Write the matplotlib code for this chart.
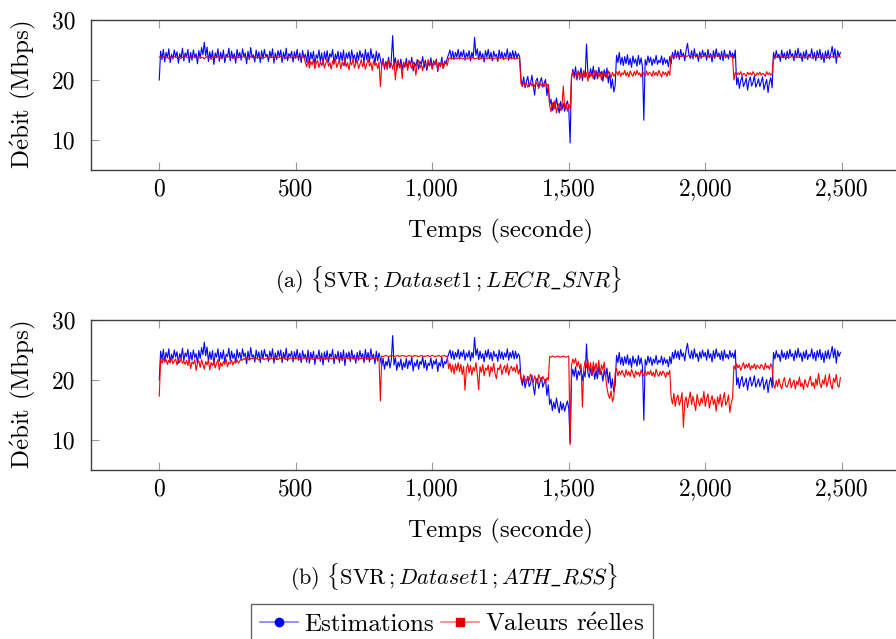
import matplotlib
matplotlib.use("Agg")
import matplotlib.pyplot as plt
from matplotlib.lines import Line2D
from matplotlib.ticker import FuncFormatter
import numpy as np

plt.rcParams['font.family'] = ['cmr10', 'DejaVu Serif']
plt.rcParams['mathtext.fontset'] = 'cm'
plt.rcParams['axes.unicode_minus'] = False

# time axis, one reading every 5 s
temps = np.arange(0, 2500, 5)

# estimations (same curve in both panels), 20 readings per 100 s
estimations = [
    20.0, 24.8, 23.4, 25.1, 23.0, 24.6, 23.7, 25.2, 22.9, 24.3, 23.5, 25.0, 23.8, 24.7, 22.8, 24.4, 23.6, 25.3, 23.2, 24.5,
    23.9, 25.1, 22.9, 24.6, 23.3, 25.0, 23.7, 24.4, 22.7, 24.9, 23.6, 25.4, 24.2, 26.3, 24.0, 25.5, 23.1, 24.7, 23.4, 24.9,
    22.6, 24.5, 23.8, 25.2, 23.1, 24.6, 23.5, 25.0, 22.9, 24.3, 23.9, 25.3, 23.2, 24.8, 23.6, 24.4, 22.8, 25.1, 23.7, 24.6,
    23.3, 25.2, 23.9, 24.5, 22.7, 24.8, 23.4, 25.4, 23.8, 24.2, 23.0, 25.0, 23.6, 24.7, 22.9, 24.9, 23.5, 25.1, 23.9, 24.3,
    23.1, 24.8, 23.7, 25.2, 22.8, 24.5, 23.4, 24.9, 23.8, 25.0, 22.9, 24.6, 23.5, 25.3, 23.2, 24.4, 23.9, 24.8, 23.0, 24.7,
    23.6, 25.1, 23.3, 24.5, 22.9, 24.9, 23.7, 24.3, 23.0, 25.0, 22.8, 24.6, 23.5, 24.8, 22.6, 24.2, 23.6, 25.0, 23.1, 24.5,
    22.5, 24.7, 23.4, 24.9, 23.0, 24.4, 23.8, 25.1, 22.7, 24.3, 23.5, 24.8, 22.9, 24.6, 23.2, 25.0, 22.4, 24.5, 23.6, 24.7,
    23.1, 25.0, 23.5, 24.2, 22.8, 24.6, 23.3, 24.9, 23.7, 24.4, 22.9, 25.1, 23.4, 24.6, 23.0, 25.2, 23.6, 24.3, 22.7, 24.8,
    23.2, 24.5, 23.5, 22.3, 23.6, 21.8, 23.1, 22.4, 23.8, 22.0, 23.3, 27.4, 22.5, 23.7, 21.6, 23.0, 22.2, 23.5, 21.7, 22.9,
    22.1, 23.6, 21.9, 23.2, 22.5, 23.8, 21.5, 22.9, 22.3, 23.4, 21.8, 23.1, 22.6, 23.9, 22.0, 23.3, 21.6, 22.8, 22.4, 23.7,
    21.9, 23.2, 22.6, 23.5, 21.4, 22.9, 22.3, 23.8, 22.0, 23.1, 22.7, 23.6, 24.3, 25.0, 23.6, 24.8, 23.4, 24.6, 23.8, 25.1,
    23.5, 24.7, 23.9, 25.0, 23.3, 24.5, 23.8, 24.9, 23.2, 24.6, 23.7, 27.1, 24.1, 25.2, 23.4, 24.8, 23.6, 24.4, 23.0, 24.9,
    23.8, 25.1, 23.5, 24.6, 23.2, 24.8, 23.9, 24.3, 23.1, 25.0, 23.6, 24.7, 23.4, 24.5, 23.8, 25.2, 23.3, 24.6, 23.7, 24.9,
    23.5, 24.8, 23.6, 24.4, 23.9, 20.2, 19.1, 20.5, 18.7, 19.8, 20.6, 18.9, 19.4, 20.8, 19.0, 17.5, 19.9, 20.3, 18.6, 19.7,
    20.4, 18.8, 19.5, 20.1, 17.4, 19.2, 15.9, 16.8, 14.9, 16.3, 15.2, 17.0, 15.6, 14.5, 16.4, 15.0, 16.1, 14.8, 15.7, 16.5,
    15.3, 9.5, 20.3, 21.8, 20.6, 22.2, 20.0, 21.5, 20.8, 22.0, 19.9, 21.4, 20.5, 26.0, 21.2, 20.4, 21.9, 20.7, 22.3, 20.1,
    21.6, 20.2, 22.1, 20.9, 21.4, 19.8, 21.7, 20.5, 22.0, 19.5, 21.3, 18.6, 20.2, 18.0, 19.1, 24.1, 22.9, 24.6, 22.6, 23.8,
    22.4, 23.9, 22.7, 24.2, 22.5, 23.6, 22.1, 24.0, 22.8, 23.5, 22.3, 24.1, 22.6, 23.7, 22.2, 13.3, 23.4, 22.5, 24.0, 22.9,
    23.8, 22.4, 23.5, 22.8, 24.1, 22.6, 23.3, 22.9, 24.0, 22.5, 23.7, 22.8, 23.4, 22.2, 23.9, 22.7, 24.6, 23.5, 25.0, 23.7,
    24.8, 23.4, 25.1, 23.9, 24.5, 23.2, 25.0, 26.1, 24.3, 23.6, 24.9, 23.5, 25.2, 23.8, 24.4, 23.1, 24.7, 23.6, 25.0, 23.9,
    24.6, 23.3, 25.1, 23.7, 24.4, 23.0, 24.9, 23.6, 25.2, 23.9, 24.5, 23.4, 24.8, 23.2, 25.0, 23.7, 24.3, 23.5, 24.9, 23.8,
    24.5, 23.6, 25.0, 19.2, 20.4, 18.6, 19.9, 20.6, 18.9, 19.5, 20.3, 18.3, 19.8, 20.5, 19.0, 19.6, 20.7, 18.8, 19.4, 20.2,
    18.9, 19.7, 20.5, 18.4, 19.3, 20.1, 17.9, 19.6, 20.4, 18.7, 24.6, 23.5, 24.9, 23.8, 24.3, 23.1, 25.0, 23.7, 24.5, 23.4,
    24.8, 23.6, 25.1, 23.9, 24.4, 23.2, 24.9, 23.7, 25.3, 23.8, 24.5, 23.1, 24.7, 23.6, 25.0, 23.4, 24.3, 23.9, 25.2, 23.5,
    24.6, 23.2, 24.9, 23.8, 25.1, 23.4, 24.5, 22.9, 24.8, 23.6, 25.0, 23.5, 24.4, 25.6, 23.7, 25.2, 22.8, 24.9, 23.9, 24.6,
]

# valeurs reelles, panel (a) LECR_SNR
reelles_a = [
    23.8, 23.9, 23.7, 23.8, 23.9, 23.7, 23.8, 23.6, 23.9, 23.8, 23.7, 23.9, 23.8, 23.7, 23.8, 23.9, 23.6, 23.8, 23.7, 23.9,
    23.8, 23.7, 23.9, 23.8, 23.6, 23.8, 23.9, 23.7, 23.8, 23.8, 23.9, 23.7, 23.8, 23.5, 23.8, 23.9, 23.7, 23.8, 23.6, 23.8,
    23.9, 23.8, 23.7, 23.9, 23.8, 23.6, 23.8, 23.9, 23.7, 23.8, 23.8, 23.9, 23.7, 23.8, 23.6, 23.9, 23.8, 23.7, 23.9, 23.8,
    23.7, 23.8, 23.9, 23.7, 23.8, 23.8, 23.6, 23.9, 23.8, 23.7, 23.9, 23.8, 23.7, 23.8, 23.9, 23.6, 23.8, 23.7, 23.9, 23.8,
    23.8, 23.7, 23.9, 23.8, 23.6, 23.8, 23.9, 23.7, 23.8, 23.9, 23.7, 23.8, 23.8, 23.6, 23.9, 23.8, 23.7, 23.8, 23.9, 23.7,
    23.8, 23.9, 23.7, 23.8, 23.6, 23.9, 23.8, 22.9, 22.2, 23.4, 22.0, 23.1, 22.5, 23.5, 21.9, 22.8, 23.3, 22.1, 23.0, 22.4,
    23.4, 22.0, 22.8, 23.5, 22.3, 22.9, 21.8, 23.2, 22.6, 23.6, 22.1, 22.7, 23.3, 21.9, 23.0, 22.4, 23.5, 22.2, 22.9, 21.7,
    23.1, 22.5, 23.6, 22.0, 22.8, 23.3, 21.9, 22.6, 23.4, 22.2, 23.0, 21.8, 22.7, 23.5, 22.3, 22.9, 21.6, 23.2, 22.4, 22.8,
    21.9, 23.0, 18.9, 22.6, 23.2, 22.1, 22.9, 21.7, 23.3, 22.4, 22.8, 21.8, 23.1, 20.0, 22.5, 23.4, 22.0, 22.7, 20.2, 23.0,
    22.3, 22.9, 21.6, 23.2, 22.5, 21.9, 23.0, 22.4, 20.8, 22.8, 23.3, 22.0, 22.6, 21.5, 23.1, 22.7, 22.1, 23.4, 22.3, 22.9,
    21.8, 23.0, 22.5, 23.3, 21.7, 22.8, 22.2, 23.1, 21.9, 22.6, 23.2, 22.4, 23.6, 23.7, 23.5, 23.6, 23.8, 23.6, 23.5, 23.7,
    23.6, 23.7, 23.5, 23.6, 23.8, 23.6, 23.5, 23.7, 23.6, 23.6, 23.8, 23.5, 23.6, 23.7, 23.6, 23.5, 23.7, 23.6, 23.8, 23.6,
    23.5, 23.7, 23.6, 23.6, 23.8, 23.5, 23.7, 23.6, 23.5, 23.7, 23.6, 23.8, 23.6, 23.5, 23.7, 23.6, 23.6, 23.8, 23.5, 23.7,
    23.6, 23.5, 23.7, 23.6, 23.6, 19.4, 18.9, 19.6, 19.1, 19.5, 18.8, 19.3, 19.7, 19.0, 19.4, 18.9, 19.6, 19.2, 18.7, 19.5,
    19.0, 19.4, 18.9, 19.6, 19.1, 19.3, 15.8, 14.7, 16.2, 15.1, 16.6, 14.5, 15.6, 16.1, 14.9, 15.7, 19.0, 15.3, 16.0, 14.8,
    15.9, 15.2, 20.5, 21.4, 20.3, 21.1, 20.6, 21.5, 20.1, 21.0, 20.7, 21.6, 20.4, 21.2, 19.8, 21.3, 20.6, 21.0, 20.2, 21.5,
    20.8, 21.3, 20.5, 21.1, 20.0, 21.4, 20.7, 21.2, 20.3, 21.5, 20.9, 20.4, 21.3, 20.6, 21.0, 21.4, 20.8, 21.5, 20.6, 21.2,
    20.9, 21.6, 20.7, 21.3, 20.5, 21.5, 21.0, 20.6, 21.4, 20.8, 21.6, 20.9, 21.2, 20.5, 21.4, 21.0, 20.7, 21.5, 20.8, 21.3,
    21.1, 20.6, 21.5, 20.8, 21.3, 20.7, 21.6, 21.0, 20.5, 21.4, 20.9, 21.3, 20.6, 21.5, 20.8, 24.0, 24.1, 23.9, 24.0, 24.0,
    24.0, 24.1, 23.9, 24.0, 24.0, 24.1, 23.9, 24.0, 24.1, 24.0, 23.9, 24.0, 24.1, 24.0, 23.9, 24.0, 24.0, 24.1, 23.9, 24.0,
    24.1, 24.0, 23.9, 24.0, 24.1, 24.0, 23.9, 24.0, 24.0, 24.1, 23.9, 24.0, 24.1, 24.0, 24.0, 23.9, 24.0, 24.1, 24.0, 23.9,
    24.0, 20.0, 21.3, 20.8, 21.2, 20.9, 21.4, 20.7, 21.1, 21.0, 20.6, 21.3, 20.9, 21.2, 20.8, 21.4, 21.0, 20.7, 21.2, 20.9,
    21.3, 20.8, 21.1, 21.0, 20.6, 21.4, 20.9, 21.2, 20.8, 21.1, 23.8, 23.8, 23.9, 23.7, 23.8, 23.8, 23.9, 23.7, 23.8, 23.9,
    23.8, 23.7, 23.8, 23.9, 23.8, 23.7, 23.8, 23.9, 23.8, 23.8, 23.7, 23.9, 23.8, 23.8, 23.7, 23.8, 23.9, 23.8, 23.7, 23.8,
    23.9, 23.8, 23.7, 23.8, 23.8, 23.9, 23.7, 23.8, 23.8, 23.9, 23.8, 23.7, 23.8, 23.9, 23.8, 23.8, 23.7, 23.8, 23.9, 23.8,
]

# valeurs reelles, panel (b) ATH_RSS
reelles_b = [
    17.3, 23.5, 22.8, 23.6, 23.0, 23.4, 22.6, 23.3, 22.9, 23.7, 22.7, 23.2, 23.5, 22.5, 23.4, 22.9, 23.6, 22.8, 23.1, 22.6,
    23.3, 22.4, 23.5, 21.9, 23.0, 22.7, 23.4, 21.6, 22.8, 23.2, 22.1, 23.4, 22.6, 21.8, 23.1, 22.5, 23.3, 21.7, 22.9, 22.4,
    23.2, 22.0, 22.8, 23.4, 21.7, 22.9, 22.3, 23.1, 22.6, 23.5, 22.2, 23.0, 22.7, 23.3, 22.5, 23.1, 22.9, 23.4, 22.8, 23.2,
    23.5, 23.3, 23.6, 23.4, 23.7, 23.5, 23.3, 23.6, 23.5, 23.7, 23.4, 23.6, 23.5, 23.3, 23.6, 23.7, 23.5, 23.4, 23.6, 23.5,
    23.6, 23.4, 23.7, 23.5, 23.6, 23.5, 23.7, 23.4, 23.6, 23.6, 23.5, 23.7, 23.6, 23.4, 23.6, 23.5, 23.7, 23.6, 23.5, 23.6,
    23.5, 23.7, 23.6, 23.4, 23.6, 23.5, 23.7, 23.6, 23.5, 23.6, 23.7, 23.5, 23.6, 23.4, 23.6, 23.7, 23.5, 23.6, 23.6, 23.5,
    23.7, 23.5, 23.6, 23.6, 23.4, 23.7, 23.5, 23.6, 23.5, 23.7, 23.6, 23.5, 23.6, 23.7, 23.4, 23.6, 23.5, 23.7, 23.6, 23.5,
    23.6, 23.7, 23.5, 23.6, 23.4, 23.6, 23.7, 23.5, 23.6, 23.6, 23.5, 23.7, 23.6, 23.5, 23.6, 23.4, 23.7, 23.6, 23.5, 23.6,
    23.6, 23.5, 16.5, 24.0, 23.9, 24.0, 24.1, 24.0, 23.9, 24.0, 24.1, 24.0, 23.9, 24.0, 24.0, 24.1, 23.9, 24.0, 24.1, 24.0,
    24.0, 23.9, 24.0, 24.1, 24.0, 24.0, 23.9, 24.1, 24.0, 24.0, 23.9, 24.0, 24.1, 24.0, 23.9, 24.0, 24.0, 24.1, 23.9, 24.0,
    24.1, 24.0, 23.9, 24.0, 24.0, 24.1, 23.9, 24.0, 24.0, 24.1, 23.9, 24.0, 21.9, 22.8, 21.3, 22.5, 21.0, 22.7, 21.6, 22.9,
    21.4, 22.6, 20.9, 22.3, 18.3, 21.8, 22.7, 21.2, 22.4, 20.8, 22.1, 21.5, 22.9, 21.0, 18.4, 22.2, 21.3, 22.6, 20.7, 22.0,
    21.6, 22.5, 20.6, 22.2, 21.4, 22.8, 21.1, 20.2, 22.0, 21.7, 22.6, 20.9, 21.8, 22.4, 21.2, 22.7, 20.8, 21.9, 22.3, 21.5,
    22.1, 21.3, 22.6, 21.0, 21.8, 20.3, 19.7, 20.8, 20.1, 19.5, 20.6, 19.9, 21.0, 20.2, 19.6, 20.7, 20.0, 19.4, 20.9, 20.3,
    19.8, 20.6, 20.1, 19.5, 20.4, 20.0, 23.9, 23.8, 24.0, 23.9, 23.8, 23.9, 24.0, 23.9, 23.8, 23.9, 24.0, 23.9, 23.8, 23.9,
    24.0, 9.2, 22.4, 23.5, 22.8, 23.6, 22.2, 23.1, 21.9, 22.7, 15.5, 21.8, 23.2, 22.0, 23.4, 21.5, 22.9, 20.8, 23.0, 21.6,
    22.8, 21.2, 23.3, 20.9, 22.5, 21.7, 23.0, 20.6, 18.7, 17.5, 16.9, 18.2, 16.4, 17.1, 21.2, 21.9, 20.7, 21.5, 20.9, 21.6,
    21.0, 20.5, 21.7, 20.8, 21.4, 20.6, 21.8, 21.1, 20.4, 21.5, 20.9, 21.3, 20.6, 21.7, 21.0, 20.7, 21.5, 20.8, 21.4, 20.9,
    21.6, 20.7, 21.3, 20.5, 21.8, 21.0, 20.6, 21.4, 20.8, 21.5, 21.1, 20.4, 21.3, 20.9, 21.6, 17.1, 16.0, 17.8, 15.6, 16.9,
    17.5, 15.8, 16.6, 17.9, 12.1, 16.3, 17.2, 15.4, 16.8, 18.0, 15.9, 17.3, 16.1, 14.9, 17.6, 16.4, 15.7, 17.0, 16.2, 18.1,
    15.6, 16.9, 17.7, 15.3, 16.5, 17.4, 15.9, 16.8, 14.8, 17.2, 16.0, 17.6, 15.5, 16.7, 17.9, 15.8, 16.3, 17.5, 14.6, 16.1,
    17.0, 22.4, 21.8, 22.7, 22.0, 22.5, 21.6, 22.3, 22.9, 21.9, 22.6, 22.1, 22.8, 21.7, 22.4, 22.0, 22.7, 21.8, 22.5, 22.2,
    21.9, 22.6, 22.3, 21.7, 22.8, 22.0, 22.4, 21.8, 22.7, 22.1, 19.3, 18.6, 19.9, 18.9, 20.2, 19.1, 18.5, 19.7, 20.4, 19.0,
    18.8, 19.6, 20.3, 18.7, 19.4, 20.0, 18.5, 19.8, 19.2, 20.5, 18.9, 19.5, 18.4, 20.1, 19.3, 18.8, 19.9, 20.6, 19.0, 19.6,
    18.6, 20.2, 19.1, 21.1, 19.4, 18.7, 20.0, 19.3, 20.8, 18.9, 19.7, 21.0, 19.2, 18.5, 20.3, 19.6, 20.9, 19.1, 18.8, 20.4,
]

captions = [
    r'(a) $\{\mathrm{SVR}\,;Dataset1\,;LECR\_SNR\}$',
    r'(b) $\{\mathrm{SVR}\,;Dataset1\,;ATH\_RSS\}$',
]
ylabel = r'D$\acute{\mathrm{e}}$bit (Mbps)'
legend_labels = ['Estimations', r'Valeurs r$\acute{\mathrm{e}}$elles']
xticks = [0, 500, 1000, 1500, 2000, 2500]
yticks = [10, 20, 30]

W, H = 896, 639
fig = plt.figure(figsize=(W / 100, H / 100), dpi=100)

def px(x0, y0, x1, y1):
    # pixel box -> figure fraction
    return [x0 / W, 1 - y1 / H, (x1 - x0) / W, (y1 - y0) / H]

ax_a = fig.add_axes(px(91, 20, 910, 170))
ax_b = fig.add_axes(px(91, 320, 910, 470))

for ax, reel in [(ax_a, reelles_a), (ax_b, reelles_b)]:
    ax.plot(temps, estimations, color='#0000ff', lw=0.8)
    ax.plot(temps, reel, color='#ff0000', lw=0.8)
    ax.set_xlim(-250, 2750)
    ax.set_ylim(5, 30)
    ax.set_xticks(xticks)
    ax.set_yticks(yticks)
    ax.xaxis.set_major_formatter(FuncFormatter(lambda v, p: f'{v:,.0f}'))
    ax.tick_params(direction='in', top=True, right=True, length=6, width=0.8,
                   color='#9a9a9a', labelsize=17)
    ax.tick_params(axis='x', pad=6)
    ax.tick_params(axis='y', pad=11)
    for s in ax.spines.values():
        s.set_color('#404040')
        s.set_linewidth(1.0)
    ax.set_xlabel('Temps (seconde)', fontsize=18, labelpad=13)
    ax.set_ylabel(ylabel, fontsize=18, labelpad=10)

fig.text(449 / W, 1 - 280 / H, captions[0], ha='center', va='center', fontsize=16)
fig.text(454 / W, 1 - 577 / H, captions[1], ha='center', va='center', fontsize=16)

handles = [
    Line2D([], [], color='#8080ff', lw=1.2, marker='o', ms=6, mfc='#0000ee', mec='#0000ee'),
    Line2D([], [], color='#ff8080', lw=1.2, marker='s', ms=6, mfc='#dd0000', mec='#dd0000'),
]
leg = fig.legend(handles, legend_labels, loc='upper center',
                 bbox_to_anchor=(452 / W, 1 - 604 / H), ncol=2, fontsize=18,
                 frameon=True, fancybox=False, handlelength=1.5, handletextpad=0.25,
                 columnspacing=0.3, borderpad=0.35, borderaxespad=0)
leg.get_frame().set_edgecolor('#404040')
leg.get_frame().set_linewidth(1.0)

fig.savefig('out.png', dpi=100)
